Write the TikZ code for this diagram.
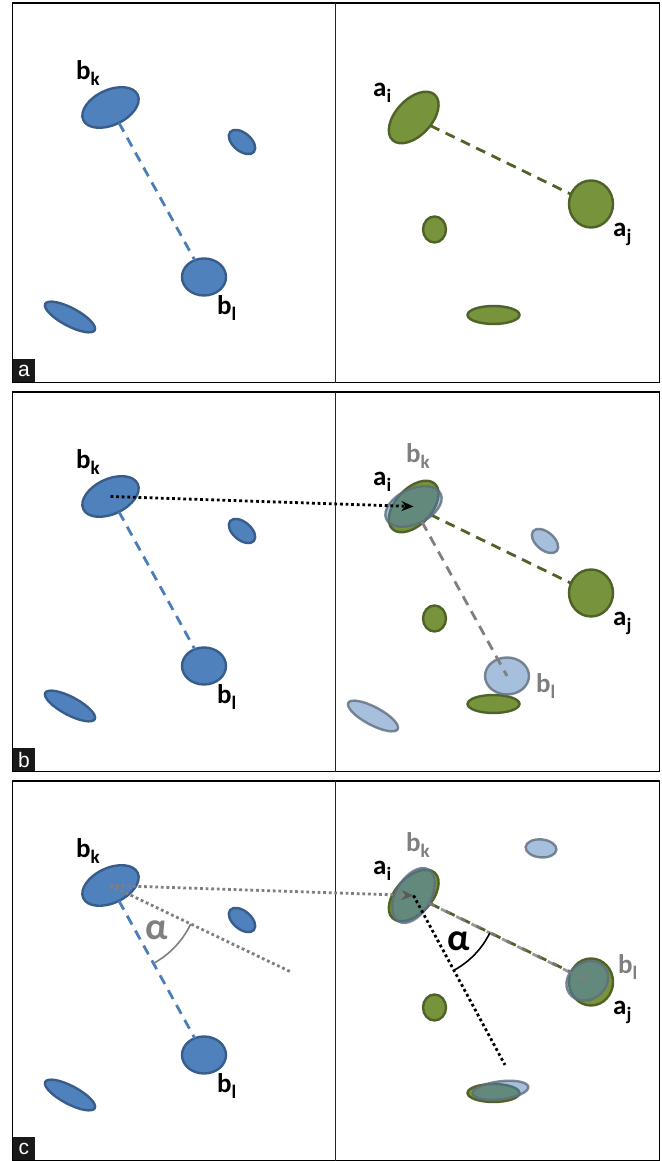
\documentclass[tikz,border=0pt]{standalone}
\usepackage{fontspec}
\setmainfont{Carlito}
\newfontfamily\boxfont{Liberation Sans}
\usetikzlibrary{shapes.geometric,arrows.meta}
\definecolor{bfill}{HTML}{4F81BD}
\definecolor{bline}{HTML}{385D8A}
\definecolor{gfill}{HTML}{77933C}
\definecolor{gline}{HTML}{4F6228}
\definecolor{greyl}{HTML}{7F7F7F}
\definecolor{cline}{HTML}{5F6D7D}
\definecolor{bdash}{HTML}{4A7EBB}
\newcommand{\sbs}[1]{\raisebox{-5.5pt}{\fontsize{19}{19}\selectfont #1}}
\tikzset{
  blob/.style={ellipse, inner sep=0pt, outer sep=0pt, line width=2.4pt},
  bblob/.style={blob, fill=bfill, draw=bline},
  gblob/.style={blob, fill=gfill, draw=gline},
  cblob/.style={blob, fill=bfill, fill opacity=0.5, draw=cline, draw opacity=0.8},
  lab/.style={font=\fontsize{27}{27}\selectfont\bfseries, inner sep=0pt, anchor=base west},
  glab/.style={lab, text=greyl},
  alab/.style={font=\fontsize{38}{38}\selectfont\bfseries, inner sep=0pt},
  frame/.style={line width=1.5pt, draw=black},
  divider/.style={line width=1pt, draw=black!85},
  boxlab/.style={fill=black!90, text=white, font=\boxfont\fontsize{21}{21}\selectfont, anchor=south west, minimum width=22pt, minimum height=23pt, inner sep=0pt},
  bdashed/.style={draw=bdash, line width=2.8pt, dash pattern=on 10pt off 7pt},
  gdashed/.style={draw=gline, line width=2.8pt, dash pattern=on 10pt off 7pt},
  ydashed/.style={draw=greyl, line width=2.8pt, dash pattern=on 10pt off 7pt},
  kdotted/.style={draw=black, line width=2.8pt, dash pattern=on 2.8pt off 2.8pt},
  ydotted/.style={draw=greyl, line width=2.8pt, dash pattern=on 2.8pt off 2.8pt},
  tip/.style={-{Stealth[length=12pt,width=10pt]}},
  greytip/.style={-{Stealth[length=12pt,width=10pt,color=black!65]}},
}
\newcommand{\basepanel}[2]{%
  \draw[frame] (12.7,-3) rectangle (659.6,-382.7);
  \draw[divider] (335.5,-3) -- (335.5,-382.7);
  \node[boxlab] (box#1) at (12.7,-382.7) {#2};
  \node[bblob, minimum width=60pt, minimum height=35pt, rotate=25] (bk#1) at (110.5,-107.5) {};
  \node[bblob, minimum width=31pt, minimum height=18pt, rotate=-40] (bs#1) at (242,-142) {};
  \node[bblob, minimum width=44pt, minimum height=37pt] (bl#1) at (204,-277) {};
  \node[bblob, minimum width=56pt, minimum height=18pt, rotate=-28] (bb#1) at (70,-317) {};
  \draw[bdashed] (bk#1) -- (bl#1);
  \node[lab] (bkl#1) at (76,-80) {b\sbs{k}};
  \node[lab] (bll#1) at (217,-315) {b\sbs{l}};
  \node[gblob, minimum width=62pt, minimum height=36pt, rotate=47] (ai#1) at (413.7,-117.5) {};
  \node[gblob, minimum width=44pt, minimum height=47pt] (aj#1) at (591,-204) {};
  \node[gblob, minimum width=23pt, minimum height=26pt] (gs#1) at (434.5,-229.5) {};
  \node[gblob, minimum width=52pt, minimum height=18pt] (gb#1) at (493.5,-315) {};
  \draw[gdashed] (ai#1) -- (aj#1);
  \node[lab] (ail#1) at (373,-97) {a\sbs{i}};
  \node[lab] (ajl#1) at (613,-237) {a\sbs{j}};
}
\begin{document}
\begin{tikzpicture}[x=1pt,y=1pt]
\path[use as bounding box, fill=white] (0,0) rectangle (661,1161);
% panel a
\begin{scope}[shift={(0,1161)}]
  \basepanel{a}{a}
\end{scope}
% panel b
\begin{scope}[shift={(0,772)}]
  \basepanel{b}{b}
  \node[cblob, minimum width=60pt, minimum height=35pt, rotate=25] (bkCb) at (413.5,-117.5) {};
  \node[cblob, minimum width=31pt, minimum height=18pt, rotate=-40] (bsCb) at (545,-152) {};
  \node[cblob, minimum width=44pt, minimum height=37pt] (blCb) at (507,-287) {};
  \node[cblob, minimum width=56pt, minimum height=18pt, rotate=-28] (bbCb) at (373,-327) {};
  \draw[ydashed] (bkCb) -- (blCb.center);
  \draw[kdotted, tip] (bkb.center) -- (bkCb.center);
  \node[glab] (gbkb) at (406,-74) {b\sbs{k}};
  \node[glab] (gblb) at (536,-304) {b\sbs{l}};
\end{scope}
% panel c
\begin{scope}[shift={(0,383)}]
  \basepanel{c}{c}
  \node[cblob, minimum width=60pt, minimum height=35pt, rotate=60] (bkRc) at (413.5,-117.5) {};
  \node[cblob, minimum width=31pt, minimum height=18pt, rotate=-5] (bsRc) at (541,-70.4) {};
  \node[cblob, minimum width=44pt, minimum height=37pt, rotate=35] (blRc) at (587.3,-202.8) {};
  \node[cblob, minimum width=56pt, minimum height=18pt, rotate=7] (bbRc) at (500.5,-312.3) {};
  \draw[ydashed, draw opacity=0.8, dash phase=4pt] (bkRc) -- (blRc.center);
  \coordinate (pend) at (505,-287);
  \draw[kdotted] (bkRc.center) -- (pend);
  \coordinate (lend) at (292,-194.5);
  \draw[ydotted] (bkc.center) -- (lend);
  \draw[ydotted, greytip] (bkc.center) -- (bkRc.center);
  \draw[greyl, line width=1.6pt] ([shift={(-61.1:89)}]bkc.center) arc[start angle=-61.1, end angle=-25.6, radius=89];
  \node[alab, text=greyl] (alphal) at (156.7,-152) {α};
  \draw[black, line width=1.6pt] ([shift={(-61.1:85)}]bkRc.center) arc[start angle=-61.1, end angle=-26, radius=85];
  \node[alab] (alphar) at (458.3,-163.7) {α};
  \node[glab] (gbkc) at (406,-74) {b\sbs{k}};
  \node[glab] (gblc) at (618,-196) {b\sbs{l}};
\end{scope}
\end{tikzpicture}
\end{document}
